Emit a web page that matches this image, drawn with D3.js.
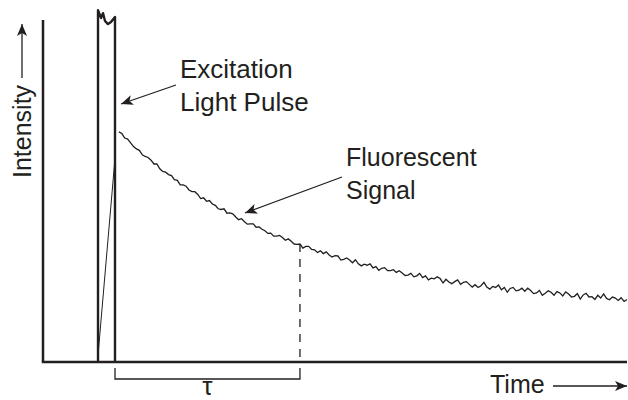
<!DOCTYPE html>
<html>
<head>
<meta charset="utf-8">
<script src="https://cdn.jsdelivr.net/npm/d3@7/dist/d3.min.js"></script>
<style>
  html, body { margin: 0; padding: 0; background: #fff; }
  svg { display: block; }
  text { font-family: "Liberation Sans", Arial, Helvetica, sans-serif; fill: #231f20; }
</style>
</head>
<body>
<div id="chart"></div>
<script>
// ---- data (time and intensity in arbitrary units) ----
const timeDomain = [0, 100];
const intensityDomain = [0, 100];

// excitation light pulse outline (time, intensity)
const pulseTimes     = [9.42, 9.42, 9.93, 10.27, 10.62, 11.13, 11.64, 12.33, 12.33];
const pulseIntensity = [0, 102.9, 100.6, 102.0, 99.7, 98.8, 99.4, 100.9, 0];
// thin rising edge inside the pulse
const edgeTimes = [9.5, 12.3];
const edgeIntensity = [3.5, 59];

// fluorescent decay signal, sampled every 0.5 time units from t = 13
const decayStart = 13;
const decayStep = 0.5;
const decayValues = [
  67.3, 66.8, 65.5, 65.2, 64.1, 63.0, 62.3, 61.9, 60.6, 60.1,
  59.8, 59.0, 57.9, 57.9, 56.5, 55.7, 55.5, 54.8, 54.5, 53.3,
  53.1, 51.8, 51.8, 51.4, 50.3, 49.8, 49.8, 49.0, 47.8, 48.0,
  47.0, 47.2, 46.2, 45.8, 44.8, 44.6, 44.8, 43.5, 43.6, 43.3,
  42.4, 41.6, 41.9, 41.0, 40.3, 40.4, 40.4, 39.4, 39.5, 38.8,
  38.4, 37.6, 37.7, 36.8, 36.8, 37.0, 36.4, 35.6, 36.0, 35.3,
  34.5, 34.4, 34.5, 33.3, 33.8, 33.8, 32.9, 32.8, 32.0, 32.5,
  31.7, 32.2, 31.3, 30.7, 31.1, 31.0, 29.8, 30.0, 30.4, 29.8,
  29.0, 29.9, 28.7, 28.1, 28.6, 28.3, 28.7, 27.5, 27.9, 26.8,
  27.4, 27.6, 26.7, 26.7, 27.0, 26.2, 26.7, 26.0, 25.3, 25.4,
  25.9, 24.9, 25.2, 25.9, 24.7, 25.2, 24.0, 24.5, 24.3, 24.9,
  24.4, 23.1, 24.2, 23.4, 22.9, 23.5, 24.0, 22.7, 23.3, 23.5,
  22.7, 21.9, 22.6, 21.8, 22.3, 23.3, 21.9, 21.3, 22.1, 21.8,
  22.5, 21.1, 21.8, 20.4, 21.5, 21.8, 20.8, 21.0, 21.6, 20.7,
  21.6, 20.9, 20.0, 20.2, 20.9, 19.5, 20.1, 20.8, 20.4, 19.5,
  20.6, 20.2, 19.3, 20.5, 19.9, 19.0, 19.2, 20.0, 18.4, 19.6,
  20.1, 19.0, 19.1, 18.3, 19.5, 18.7, 19.9, 18.6, 18.2, 19.0,
  18.7, 18.0, 18.8, 17.7, 18.3
];

// lifetime marker
const tauStart = 12.33;
const tauEnd = 44.0;

// labels
const excitationLabel = ["Excitation", "Light Pulse"];
const fluorescenceLabel = ["Fluorescent", "Signal"];
const xAxisLabel = "Time";
const yAxisLabel = "Intensity";
const tauLabel = "τ";

// ---- drawing ----
const W = 628, H = 400;
const ink = "#231f20";
const svg = d3.select("#chart").append("svg").attr("width", W).attr("height", H);

const x = d3.scaleLinear().domain(timeDomain).range([43, 627]);
const y = d3.scaleLinear().domain(intensityDomain).range([362, 20]);

const defs = svg.append("defs");
defs.append("marker")
  .attr("id", "arrow").attr("viewBox", "0 0 10 10")
  .attr("refX", 10).attr("refY", 5)
  .attr("markerWidth", 12).attr("markerHeight", 12)
  .attr("markerUnits", "userSpaceOnUse")
  .attr("orient", "auto")
  .append("path").attr("d", "M0,0.8 L10,5 L0,9.2 L2.5,5 Z").attr("fill", ink);

// axes
svg.append("line")
  .attr("x1", x(0)).attr("x2", x(0)).attr("y1", y(100)).attr("y2", y(0))
  .attr("stroke", ink).attr("stroke-width", 2.5);
svg.append("line")
  .attr("x1", x(0) - 1.2).attr("x2", x(100)).attr("y1", y(0)).attr("y2", y(0))
  .attr("stroke", ink).attr("stroke-width", 2.5);

// pulse
const pulsePts = pulseTimes.map((t, i) => [x(t), y(pulseIntensity[i])]);
svg.append("path")
  .attr("d", d3.line()(pulsePts))
  .attr("fill", "none").attr("stroke", ink).attr("stroke-width", 2.4)
  .attr("stroke-linejoin", "round");
svg.append("path")
  .attr("d", d3.line()(edgeTimes.map((t, i) => [x(t), y(edgeIntensity[i])])))
  .attr("fill", "none").attr("stroke", ink).attr("stroke-width", 1);

// decay curve
const decayPts = decayValues.map((v, i) => [x(decayStart + i * decayStep), y(v)]);
svg.append("path")
  .attr("d", d3.line()(decayPts))
  .attr("fill", "none").attr("stroke", ink).attr("stroke-width", 1.3)
  .attr("stroke-linejoin", "miter");

// dashed tau line
const tauIdx = Math.round((tauEnd - decayStart) / decayStep);
svg.append("line")
  .attr("x1", x(tauEnd)).attr("x2", x(tauEnd))
  .attr("y1", y(decayValues[tauIdx])).attr("y2", y(0))
  .attr("stroke", ink).attr("stroke-width", 1.3)
  .attr("stroke-dasharray", "8,7");

// tau bracket
const by = y(0) + 17, btop = y(0) + 6;
svg.append("path")
  .attr("d", `M${x(tauStart)},${btop} V${by} H${x(tauEnd)} V${btop}`)
  .attr("fill", "none").attr("stroke", ink).attr("stroke-width", 1.3);
svg.append("text")
  .attr("x", (x(tauStart) + x(tauEnd)) / 2).attr("y", 395)
  .attr("text-anchor", "middle").attr("font-size", 26)
  .text(tauLabel);

// excitation label + arrow
svg.append("text").attr("x", 180).attr("y", 78).attr("font-size", 26).text(excitationLabel[0]);
svg.append("text").attr("x", 180).attr("y", 111).attr("font-size", 26).text(excitationLabel[1]);
svg.append("line")
  .attr("x1", 176).attr("y1", 85).attr("x2", 121).attr("y2", 104)
  .attr("stroke", ink).attr("stroke-width", 1.3).attr("marker-end", "url(#arrow)");

// fluorescence label + arrow
svg.append("text").attr("x", 346).attr("y", 166).attr("font-size", 25).text(fluorescenceLabel[0]);
svg.append("text").attr("x", 346).attr("y", 199).attr("font-size", 25).text(fluorescenceLabel[1]);
svg.append("line")
  .attr("x1", 342).attr("y1", 177).attr("x2", 245).attr("y2", 213)
  .attr("stroke", ink).attr("stroke-width", 1.3).attr("marker-end", "url(#arrow)");

// x axis label + arrow
svg.append("text").attr("x", 490).attr("y", 393).attr("font-size", 25).text(xAxisLabel);
svg.append("line")
  .attr("x1", 553).attr("y1", 386).attr("x2", 627).attr("y2", 386)
  .attr("stroke", ink).attr("stroke-width", 1.3).attr("marker-end", "url(#arrow)");

// y axis label + arrow
svg.append("text")
  .attr("transform", "translate(31,178) rotate(-90)")
  .attr("font-size", 25).text(yAxisLabel);
svg.append("line")
  .attr("x1", 22).attr("y1", 78).attr("x2", 22).attr("y2", 24)
  .attr("stroke", ink).attr("stroke-width", 1.3).attr("marker-end", "url(#arrow)");
</script>
</body>
</html>
